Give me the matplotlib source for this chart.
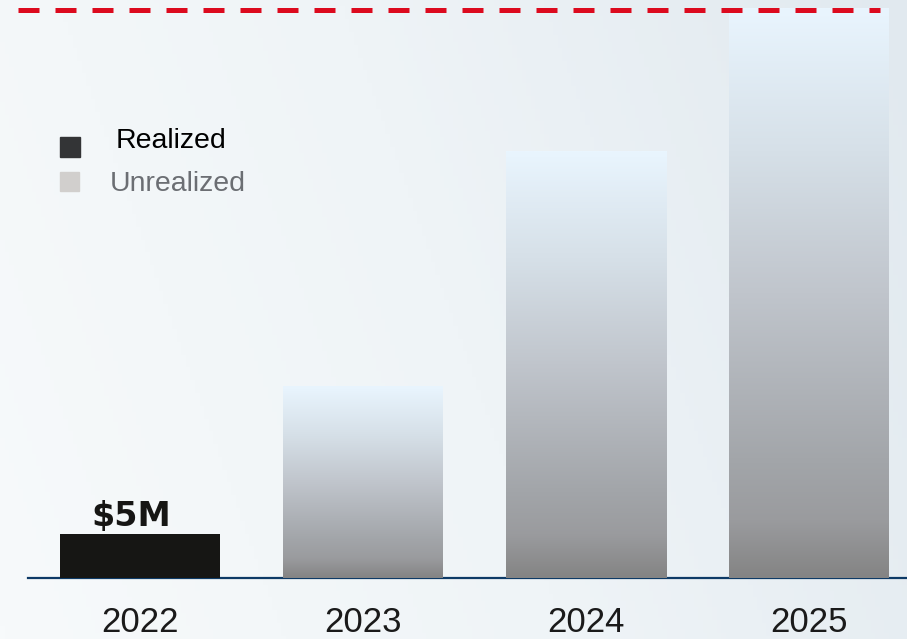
import numpy as np
import matplotlib.pyplot as plt
from matplotlib.colors import LinearSegmentedColormap

# values in $M
years = ["2022", "2023", "2024", "2025"]
realized = [5.0, 0.0, 0.0, 0.0]
unrealized = [0.0, 21.8, 48.5, 64.7]
target = 64.5
realized_label = "$5M"

W, H = 907, 639
fig = plt.figure(figsize=(W / 100, H / 100), dpi=100)

# page background gradient
bg = fig.add_axes([0, 0, 1, 1])
bg.set_axis_off()
gx, gy = np.meshgrid(np.linspace(0, 1, 200), np.linspace(0, 1, 200))
bg_cmap = LinearSegmentedColormap.from_list("bg", ["#f7fafb", "#eff4f7", "#e1e9ef"])
bg.imshow(0.8 * gx + 0.2 * (1 - gy), cmap=bg_cmap, aspect="auto", extent=[0, 1, 0, 1])

# main axes: baseline at y=578px, left edge x=28px
ax = fig.add_axes([28 / W, 61 / H, 879 / W, 578 / H])
ax.set_facecolor("none")
step = 223.0
width = 160 / step
x = np.arange(len(years))

bar_cmap = LinearSegmentedColormap.from_list(
    "bar",
    [(0.0, "#e9f5fe"), (0.25, "#d6e0e8"), (0.5, "#c0c5cc"),
     (0.8, "#a2a5a9"), (0.9, "#9a9b9e"), (1.0, "#848484")],
)
grad = np.linspace(0, 1, 256).reshape(-1, 1)

ax.bar(x, realized, width=width, color="#161614", zorder=3)
bars = ax.bar(x, unrealized, width=width, color="none", zorder=3)
for b, v in zip(bars, unrealized):
    if v <= 0:
        continue
    x0 = b.get_x()
    ax.imshow(grad, cmap=bar_cmap, aspect="auto", zorder=3,
              extent=[x0, x0 + width, 0, v], interpolation="bilinear")
ax.set_xlim(-(140 - 28) / step, 3 + (907 - 809) / step)
ax.set_ylim(0, 578 / 8.8)

ax.text(x[0] - 0.04, realized[0] + 0.1, realized_label, ha="center", va="bottom",
        fontsize=24, fontweight="bold", color="#161614", family="DejaVu Sans", zorder=4)

# target line
ax.plot([(18 - 140) / step, (880 - 140) / step], [target, target], color="#dc0a1e",
        lw=3.6, dashes=(4.2, 3.2), solid_capstyle="butt", dash_capstyle="butt",
        zorder=5, clip_on=False)

for s in ["top", "right", "left"]:
    ax.spines[s].set_visible(False)
ax.spines["bottom"].set_color("#0d3a66")
ax.spines["bottom"].set_linewidth(1.6)
ax.set_yticks([])
ax.set_xticks(x)
ax.set_xticklabels(years, fontsize=25, color="#1a1a1a",
                   family=["Liberation Sans", "DejaVu Sans"])
ax.tick_params(axis="x", length=0, pad=20)

# legend
fig.patches.append(plt.Rectangle((60 / W, 1 - 157 / H), 20 / W, 20 / H,
                                 transform=fig.transFigure, color="#333436"))
fig.patches.append(plt.Rectangle((60 / W, 1 - 191 / H), 19 / W, 19 / H,
                                 transform=fig.transFigure, color="#d1cfcd"))
fig.text(116 / W, 1 - 141 / H, "Realized", fontsize=20.5, color="#000000",
         va="center", ha="left", family=["Liberation Sans", "DejaVu Sans"])
fig.text(110 / W, 1 - 184 / H, "Unrealized", fontsize=20.5, color="#6b6e73",
         va="center", ha="left", family=["Liberation Sans", "DejaVu Sans"])

fig.savefig("out.png", dpi=100)
